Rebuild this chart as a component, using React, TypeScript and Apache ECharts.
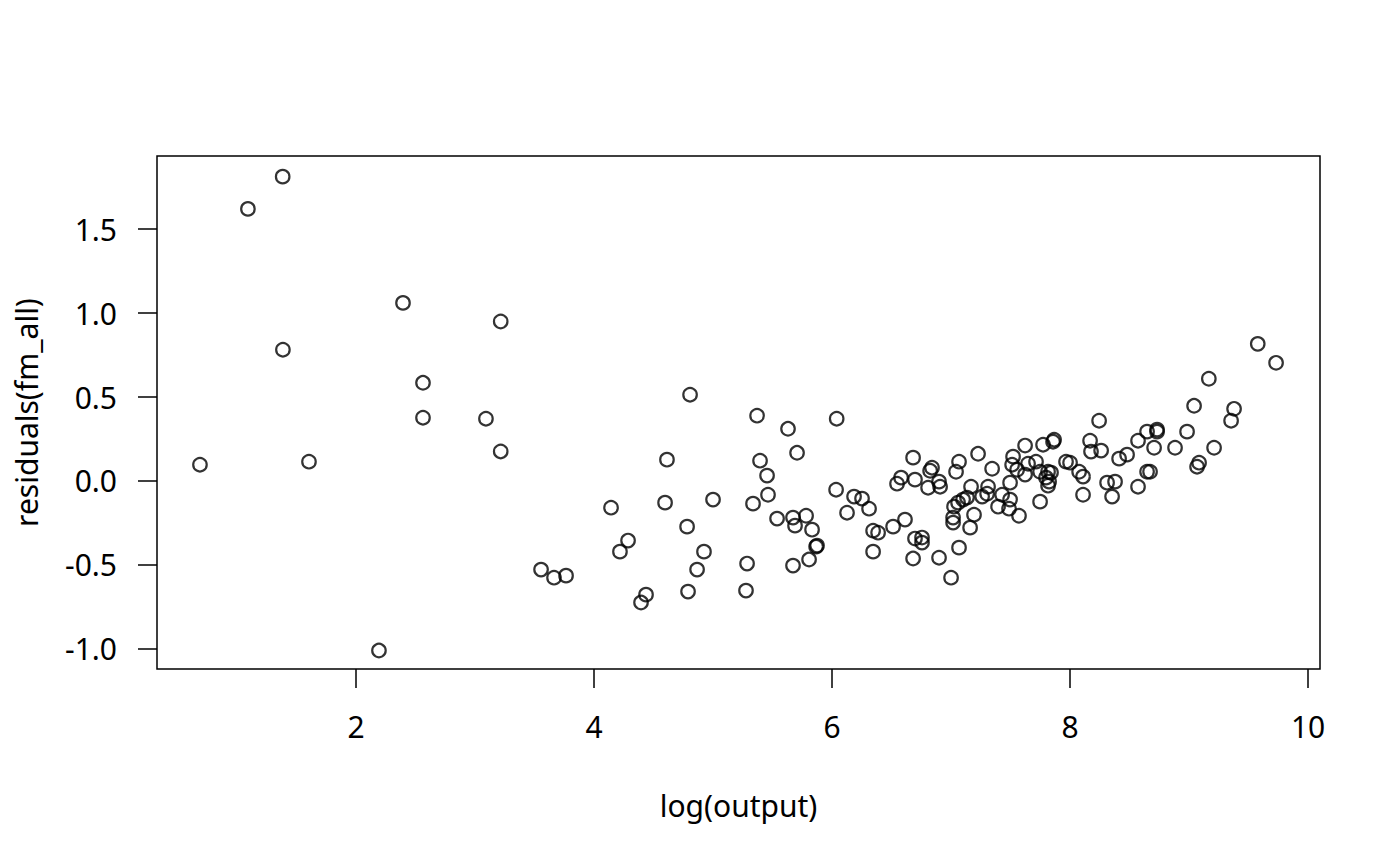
import React, { useEffect, useRef } from "react";
import * as echarts from "echarts";

const logOutput: number[] = [
  0.689, 1.092, 1.384, 1.386, 1.605, 2.193, 2.395, 2.563, 2.563, 3.092,
  3.216, 3.216, 3.555, 3.664, 3.765, 4.143, 4.218, 4.286, 4.395, 4.437,
  4.597, 4.613, 4.782, 4.790, 4.807, 4.866, 4.924, 5.000, 5.286, 5.277,
  5.336, 5.370, 5.395, 5.454, 5.462, 5.538, 5.630, 5.672, 5.689, 5.706,
  5.672, 5.782, 5.832, 5.807, 5.874, 5.866, 6.039, 6.034, 6.126, 6.185,
  6.252, 6.311, 6.345, 6.387, 6.345, 6.513, 6.613, 6.681, 6.546, 6.580,
  6.697, 6.824, 6.840, 6.807, 6.899, 6.908, 6.697, 6.756, 6.756, 6.681,
  6.899, 7.000, 7.067, 7.067, 7.042, 7.227, 7.345, 7.168, 7.311, 7.303,
  7.101, 7.059, 7.025, 7.017, 7.017, 7.193, 7.160, 7.134, 7.261, 7.429,
  7.395, 7.496, 7.487, 7.496, 7.513, 7.521, 7.571, 7.622, 7.647, 7.714,
  7.555, 7.622, 7.773, 7.857, 7.866, 7.748, 7.815, 7.840, 7.798, 7.824,
  7.815, 7.748, 7.966, 8.000, 8.076, 8.109, 8.109, 8.168, 8.176, 8.261,
  8.244, 8.311, 8.378, 8.353, 8.412, 8.479, 8.571, 8.647, 8.731, 8.731,
  8.706, 8.647, 8.672, 8.571, 8.882, 8.983, 9.042, 9.166, 9.210, 9.067,
  9.084, 9.353, 9.378, 9.577, 9.731,
];

const residualsAll: number[] = [
  0.097, 1.621, 1.813, 0.782, 0.115, -1.010, 1.061, 0.585, 0.377, 0.371,
  0.950, 0.176, -0.528, -0.576, -0.564, -0.159, -0.421, -0.355, -0.724, -0.677,
  -0.129, 0.127, -0.272, -0.659, 0.514, -0.528, -0.421, -0.111, -0.492, -0.653,
  -0.135, 0.389, 0.121, 0.032, -0.082, -0.224, 0.311, -0.218, -0.266, 0.168,
  -0.504, -0.207, -0.290, -0.468, -0.385, -0.391, 0.371, -0.052, -0.189, -0.093,
  -0.105, -0.165, -0.296, -0.308, -0.421, -0.272, -0.230, 0.139, -0.016, 0.020,
  0.008, 0.061, 0.079, -0.040, -0.004, -0.034, -0.343, -0.337, -0.367, -0.462,
  -0.457, -0.576, -0.397, 0.115, 0.055, 0.162, 0.073, -0.034, -0.034, -0.076,
  -0.111, -0.129, -0.153, -0.218, -0.248, -0.201, -0.278, -0.099, -0.093, -0.082,
  -0.153, -0.111, -0.165, -0.010, 0.097, 0.145, -0.207, 0.211, 0.103, 0.115,
  0.067, 0.038, 0.216, 0.234, 0.246, 0.055, 0.055, 0.050, 0.020, -0.004,
  -0.028, -0.123, 0.115, 0.109, 0.055, 0.026, -0.082, 0.240, 0.175, 0.181,
  0.359, -0.010, -0.004, -0.093, 0.133, 0.157, 0.240, 0.294, 0.306, 0.294,
  0.198, 0.055, 0.055, -0.034, 0.198, 0.294, 0.448, 0.609, 0.198, 0.085,
  0.109, 0.359, 0.430, 0.817, 0.704,
];

const xTicks: number[] = [2, 4, 6, 8, 10];
const yTicks: number[] = [-1.0, -0.5, 0.0, 0.5, 1.0, 1.5];
const xRange: number[] = [0.328, 10.1];
const yRange: number[] = [-1.12, 1.936];
const xTitle = "log(output)";
const yTitle = "residuals(fm_all)";

const FONT = "Noto Sans";

export default function App() {
  const ref = useRef<HTMLDivElement>(null);

  useEffect(() => {
    if (!ref.current) return;
    const chart = echarts.init(ref.current, undefined, { renderer: "svg" });
    const points = logOutput.map((x, i) => [x, residualsAll[i]]);
    chart.setOption({
      animation: false,
      backgroundColor: "#ffffff",
      grid: {
        left: 157,
        right: 80,
        top: 156,
        bottom: 197,
        show: true,
        borderColor: "#000000",
        borderWidth: 1.5,
        backgroundColor: "transparent",
      },
      xAxis: {
        type: "value",
        position: "bottom",
        min: xRange[0],
        max: xRange[1],
        axisLine: { show: false, onZero: false },
        splitLine: { show: false },
        axisTick: {
          show: true,
          inside: false,
          length: 19,
          customValues: xTicks,
          lineStyle: { color: "#000000", width: 1.5 },
        },
        axisLabel: {
          show: true,
          customValues: xTicks,
          fontSize: 30,
          fontFamily: FONT,
          color: "#000000",
          margin: 42,
          formatter: (v: number) => String(v),
        },
      },
      yAxis: {
        type: "value",
        position: "left",
        min: yRange[0],
        max: yRange[1],
        axisLine: { show: false, onZero: false },
        splitLine: { show: false },
        axisTick: {
          show: true,
          inside: false,
          length: 19,
          customValues: yTicks,
          lineStyle: { color: "#000000", width: 1.5 },
        },
        axisLabel: {
          show: true,
          customValues: yTicks,
          fontSize: 30,
          fontFamily: FONT,
          color: "#000000",
          margin: 40,
          formatter: (v: number) => v.toFixed(1),
        },
      },
      graphic: [
        {
          type: "text",
          x: 738.5,
          y: 805,
          silent: true,
          style: {
            text: xTitle,
            fontSize: 30,
            fontFamily: FONT,
            fill: "#000000",
            align: "center",
            verticalAlign: "middle",
          },
        },
        {
          type: "text",
          x: 26,
          y: 412.5,
          rotation: Math.PI / 2,
          silent: true,
          style: {
            text: yTitle,
            fontSize: 30,
            fontFamily: FONT,
            fill: "#000000",
            align: "center",
            verticalAlign: "middle",
          },
        },
      ],
      series: [
        {
          type: "scatter",
          data: points,
          symbol: "circle",
          symbolSize: 13.5,
          silent: true,
          itemStyle: {
            color: "rgba(0,0,0,0)",
            borderColor: "#000000",
            borderWidth: 2.2,
          },
          emphasis: { disabled: true },
        },
      ],
    });
    return () => chart.dispose();
  }, []);

  return (
    <div
      ref={ref}
      style={{ position: "absolute", left: 0, top: 0, width: 1400, height: 866 }}
    />
  );
}
